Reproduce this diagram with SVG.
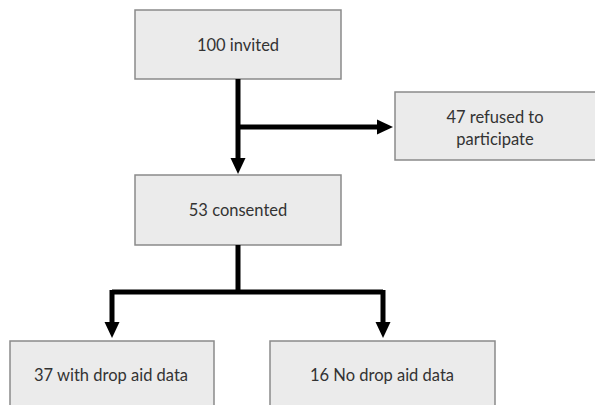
<svg xmlns="http://www.w3.org/2000/svg" width="595" height="405" viewBox="0 0 595 405">
<style>
.box{fill:#ebebeb;stroke:#8a8a8a;stroke-width:1.5}
.t{font-family:Lato,"Open Sans","Liberation Sans",sans-serif;font-size:16.5px;fill:#333;text-anchor:middle}
.c{stroke:#000;stroke-width:5;fill:none}
.ah{fill:#000}
</style>
<rect width="595" height="405" fill="#fff"/>
<g id="n1"><rect class="box" x="135" y="10" width="206" height="69"/><text class="t" x="238" y="51">100 invited</text></g>
<g id="n2"><rect class="box" x="395" y="92" width="205" height="68"/><text class="t" x="495" y="123">47 refused to</text><text class="t" x="495" y="145">participate</text></g>
<g id="n3"><rect class="box" x="135" y="175" width="206" height="70"/><text class="t" x="238" y="216">53 consented</text></g>
<g id="n4"><rect class="box" x="10" y="341" width="204" height="70"/><text class="t" x="111" y="381">37 with drop aid data</text></g>
<g id="n5"><rect class="box" x="270" y="341" width="225" height="70"/><text class="t" x="382" y="381">16 No drop aid data</text></g>
<g id="connectors">
<path class="c" d="M238 79V160"/>
<polygon class="ah" points="230.5,158 245.5,158 238,174"/>
<path class="c" d="M238 127H380"/>
<polygon class="ah" points="377,119.5 377,134.5 393,127"/>
<path class="c" d="M238 245V292M112 292H383M112 290V324"/>
<path class="c" d="M383 290V324"/>
<polygon class="ah" points="104.5,322 119.5,322 112,338"/>
<polygon class="ah" points="375.5,322 390.5,322 383,338"/>
</g>
</svg>
